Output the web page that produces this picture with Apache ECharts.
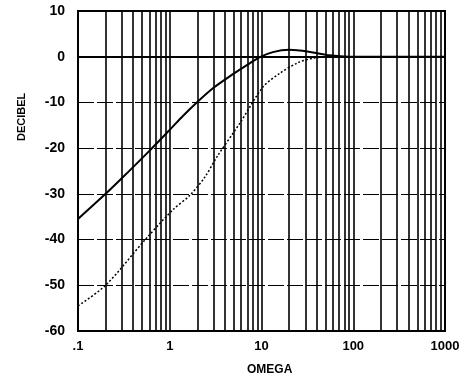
<!DOCTYPE html>
<html>
<head>
<meta charset="utf-8">
<script src="https://cdn.jsdelivr.net/npm/echarts@6/dist/echarts.min.js"></script>
<style>
html,body{margin:0;padding:0;background:#fff;}
#chart{width:464px;height:377px;}
</style>
</head>
<body>
<div id="chart"></div>
<script>
// Solid curve (omega, decibel)
var omegaSolid = [0.1, 0.2, 0.3, 0.6, 1.0, 1.4, 2.0, 3.0, 4.5, 7.0, 9.6, 13.3, 20, 35, 55, 90, 1000];
var dbSolid    = [-35.5, -30, -26.6, -20.6, -16, -12.9, -9.9, -6.8, -4.3, -1.8, -0.1, 1.0, 1.5, 1.0, 0.3, 0, 0];
// Dotted curve (omega, decibel)
var omegaDot = [0.1, 0.2, 0.53, 1.08, 1.66, 2.4, 3.27, 5.83, 10.4, 15.9, 25, 37, 55, 1000];
var dbDot    = [-54.5, -50, -40.2, -33.5, -30.3, -26.4, -21.9, -14.5, -6.6, -3.6, -1.3, -0.3, 0, 0];
// Axis ticks
var xTickValues = [0.1, 1, 10, 100, 1000];
var xTickLabels = ['.1', '1', '10', '100', '1000'];
var yMin = -60, yMax = 10, yStep = 10;
// Minor log grid lines
var minorGrid = [];
[0.1, 1, 10, 100].forEach(function (d) {
  for (var k = 2; k <= 9; k++) minorGrid.push(+(d * k).toPrecision(6));
});

function pairs(xs, ys) { return xs.map(function (x, i) { return [x, ys[i]]; }); }

var chart = echarts.init(document.getElementById('chart'), null, {renderer: 'canvas'});
chart.setOption({
  animation: false,
  backgroundColor: '#fff',
  grid: {left: 78, right: 19, top: 11, bottom: 46, show: true, borderColor: '#000', borderWidth: 2, backgroundColor: 'transparent'},
  xAxis: {
    type: 'log', logBase: 10, min: 0.1, max: 1000,
    axisLine: {show: true, lineStyle: {color: '#000', width: 2}},
    axisTick: {show: false},
    splitLine: {show: true, lineStyle: {color: '#000', width: 1.6, type: 'solid'}},
    axisLabel: {
      margin: 9, color: '#000', fontFamily: 'Liberation Sans', fontWeight: 'bold', fontSize: 13,
      formatter: function (v) {
        for (var i = 0; i < xTickValues.length; i++) if (Math.abs(v - xTickValues[i]) < 1e-9 * xTickValues[i]) return xTickLabels[i];
        return '';
      }
    }
  },
  yAxis: {
    type: 'value', min: yMin, max: yMax, interval: yStep,
    axisLine: {show: true, lineStyle: {color: '#000', width: 2}},
    axisTick: {show: false},
    splitLine: {show: true, lineStyle: {color: '#000', width: 1, type: [16, 3]}},
    axisLabel: {margin: 13, color: '#000', fontFamily: 'Liberation Sans', fontWeight: 'bold', fontSize: 14}
  },
  graphic: [
    {type: 'text', left: 247, top: 364, style: {text: 'OMEGA', fill: '#000', font: 'bold 12px "Liberation Sans"'}},
    {type: 'text', x: 16, y: 141, rotation: Math.PI / 2, style: {text: 'DECIBEL', fill: '#000', font: 'bold 11px "Liberation Sans"'}}
  ],
  series: [
    {
      type: 'line', data: pairs(omegaSolid, dbSolid), smooth: 0.3, showSymbol: false,
      lineStyle: {color: '#000', width: 2}, silent: true,
      markLine: {
        silent: true, symbol: ['none', 'none'], label: {show: false},
        lineStyle: {color: '#000', width: 1.6, type: 'solid'},
        data: minorGrid.map(function (v) { return {xAxis: v}; })
      }
    },
    {
      type: 'line', data: pairs(omegaDot, dbDot), smooth: 0.3, showSymbol: false,
      lineStyle: {color: '#000', width: 1.5, type: [2, 2]}, silent: true
    }
  ]
});
</script>
</body>
</html>
